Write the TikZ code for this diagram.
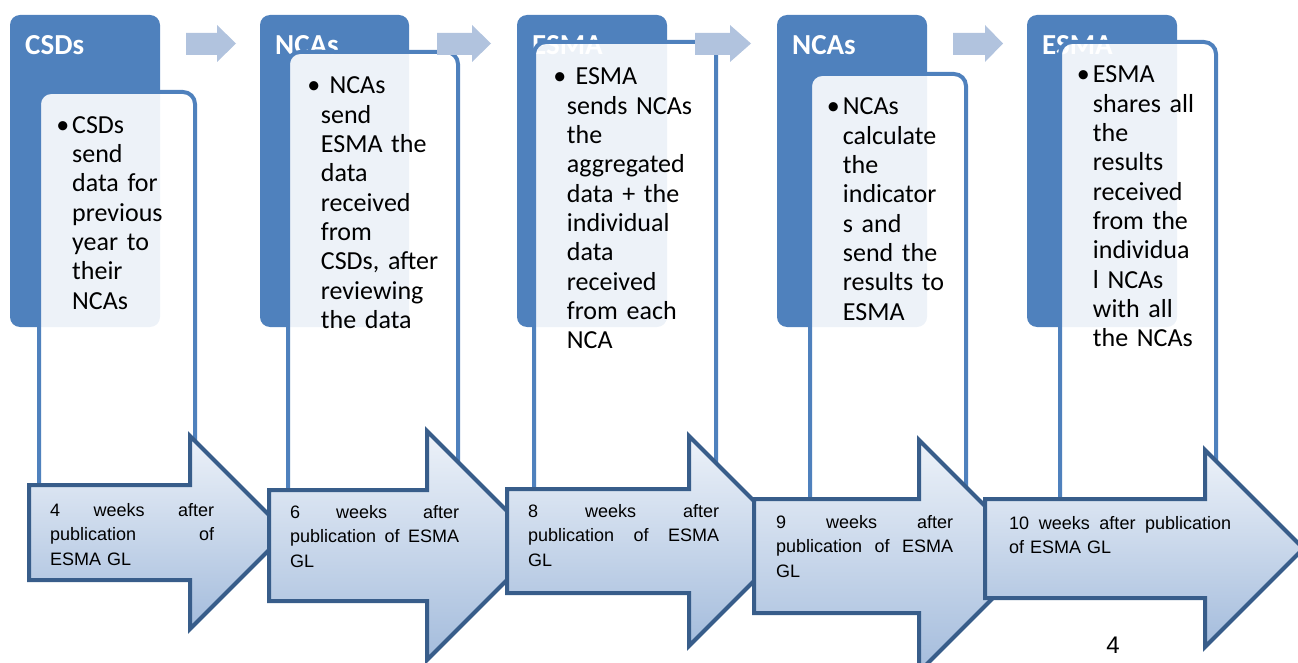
\documentclass[tikz,border=0pt]{standalone}
\usepackage{fontspec}
\setmainfont{Carlito}
\newfontfamily\arialf{Liberation Sans}
\definecolor{darkb}{HTML}{4F81BD}
\definecolor{smarr}{HTML}{B1C3DE}
\definecolor{arrline}{HTML}{385D8A}
\definecolor{arrtop}{HTML}{EDF2F9}
\definecolor{arrbot}{HTML}{A4BCDC}
\newcommand{\bul}{\llap{•\hspace{3pt}}}
\newcommand{\bulsp}{\llap{•\hspace{0.5pt}}\ }
\newcommand{\smarrow}[3]{\fill[smallarrow] (#1,33) -- (#2,33) -- (#2,25) -- (#3,43.5) -- (#2,62) -- (#2,55) -- (#1,55) -- cycle;}
\newcommand{\bigarr}[7]{\path[bigarrow] (#1,#2) -- (#4,#2) -- (#4,#5) -- (#7,{(#2+#3)/2}) -- (#4,#6) -- (#4,#3) -- (#1,#3) -- cycle;}
\tikzset{
 darkbox/.style={fill=darkb, rounded corners=10pt},
 bodybox/.style={draw=darkb, line width=4pt, fill=white, fill opacity=0.9, rounded corners=12pt},
 titletext/.style={text=white, font=\fontsize{29}{30}\selectfont\bfseries, anchor=base west, inner sep=0pt},
 bodytext/.style={text=black, font=\fontsize{26}{29.3}\selectfont, anchor=base west, inner sep=0pt, align=left, text width=160pt},
 smallarrow/.style={fill=smarr},
 bigarrow/.style={draw=arrline, line width=4pt, top color=arrtop, bottom color=arrbot, line join=miter},
 arrtext/.style={font=\arialf\fontsize{18}{24.5}\selectfont, anchor=base west, inner sep=0pt, align=left, text width=#1},
}
\begin{document}
\begin{tikzpicture}[x=1pt,y=-1pt]
\useasboundingbox (0,0) rectangle (1298,663);
% column 1
\fill[darkbox] (10,15) rectangle (160,327);
\node[titletext] (t1) at (25,55) {CSDs};
\draw[bodybox] (39,560) rectangle (195,92);
\node[bodytext] (b1) at (72,133.3) {\bul CSDs\\send\\data for\\previous\\year to\\their\\NCAs};
% column 2
\fill[darkbox] (260,15) rectangle (409,327);
\node[titletext] (t2) at (275,55) {NCAs};
\draw[bodybox] (288,560) rectangle (458,52);
\node[bodytext] (b2) at (320.7,94) {\bulsp NCAs\\send\\ESMA the\\data\\received\\from\\CSDs, after\\reviewing\\the data};
% column 3
\fill[darkbox] (517,15) rectangle (667,327);
\node[titletext] (t3) at (532,55) {ESMA};
\draw[bodybox] (534,560) rectangle (716,42);
\node[bodytext] (b3) at (566.7,85) {\bulsp ESMA\\sends NCAs\\the\\aggregated\\data + the\\individual\\data\\received\\from each\\NCA};
% column 4
\fill[darkbox] (777,15) rectangle (927,327);
\node[titletext] (t4) at (792,55) {NCAs};
\draw[bodybox] (810,560) rectangle (966,74);
\node[bodytext] (b4) at (842.7,115) {\bul NCAs\\calculate\\the\\indicator\\s and\\send the\\results to\\ESMA};
% column 5
\fill[darkbox] (1027,15) rectangle (1177,327);
\node[titletext] (t5) at (1042,55) {ESMA};
\draw[bodybox] (1060,560) rectangle (1216,42);
\node[bodytext] (b5) at (1092.7,83) {\bul ESMA\\shares all\\the\\results\\received\\from the\\individua\\l NCAs\\with all\\the NCAs};
% small arrows
\smarrow{186}{217}{236}
\smarrow{437}{472}{491}
\smarrow{695}{730}{751}
\smarrow{953}{985}{1003}
% big arrows
\bigarr{29}{485}{580}{190}{436}{629}{286.5}
\node[arrtext=164pt] (a1) at (50,516) {4 \hfill weeks \hfill after\\publication \hfill of\\ESMA GL};
\bigarr{269}{490}{601}{427}{431}{660}{541.5}
\node[arrtext=169pt] (a2) at (290,518) {6 \hfill weeks \hfill after\\publication \hfill of \hfill ESMA\\GL};
\bigarr{507}{489}{593}{689}{436}{646}{794}
\node[arrtext=191pt] (a3) at (528,517) {8 \hfill weeks \hfill after\\publication \hfill of \hfill ESMA\\GL};
\bigarr{754}{499}{613}{919}{440}{672}{1035}
\node[arrtext=177pt] (a4) at (776,528) {9 \hfill weeks \hfill after\\publication \hfill of \hfill ESMA\\GL};
\bigarr{985}{499}{598}{1205}{450}{647}{1303.5}
\node[arrtext=222pt] (a5) at (1009,529) {10 \hfill weeks \hfill after \hfill publication\\of ESMA GL};
\node[font=\arialf\fontsize{24}{26}\selectfont, anchor=base, inner sep=0pt] (pg) at (1113,653) {4};
\end{tikzpicture}
\end{document}
